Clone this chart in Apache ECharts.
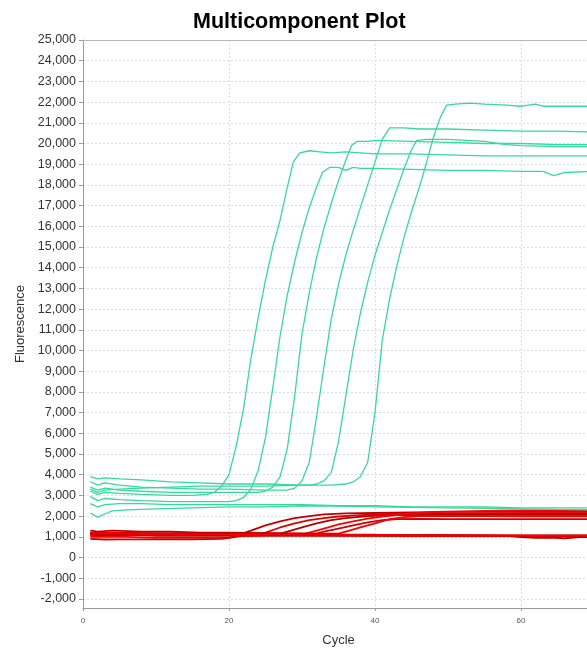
<!DOCTYPE html>
<html>
<head>
<meta charset="utf-8">
<title>Multicomponent Plot</title>
<script src="https://cdn.jsdelivr.net/npm/echarts@6/dist/echarts.min.js"></script>
<style>
  html, body { margin: 0; padding: 0; background: #ffffff; }
  #chart { width: 587px; height: 648px; }
</style>
</head>
<body>
<div id="chart"></div>
<script>
// Axis tick values
const yTickValues = [-2000, -1000, 0, 1000, 2000, 3000, 4000, 5000, 6000, 7000, 8000, 9000,
  10000, 11000, 12000, 13000, 14000, 15000, 16000, 17000, 18000, 19000, 20000, 21000,
  22000, 23000, 24000, 25000];
const xTickValues = [0, 20, 40, 60];

// Reporter dye (green) traces: [cycle, fluorescence]
const greenA = [[1,3200],[2,3050],[3,3150],[5,3100],[8,3050],[12,3000],[15,3000],[17,3050],[18,3150],[19,3450],[20,4000],[21,5400],[22,7200],[23,9600],[24,11600],[25,13400],[26,15000],[27,16300],[28,17900],[28.8,19100],[29.7,19550],[31,19650],[32.5,19600],[34,19550],[36,19600],[40,19500],[45,19500],[50,19450],[55,19400],[60,19400],[65,19400],[70,19400]];
const greenB = [[1,2950],[2,2750],[3,2850],[5,2800],[8,2750],[12,2700],[16,2700],[20,2700],[21,2750],[22,2900],[23,3300],[24,4200],[25,5800],[26,8200],[27,10700],[28,12700],[29,14300],[30,15700],[31,16900],[32,17900],[32.8,18600],[33.8,18850],[35,18850],[36,18700],[37,18850],[38,18800],[40,18800],[45,18750],[50,18700],[55,18700],[60,18650],[63,18650],[64.5,18450],[66,18600],[70,18650]];
const greenC = [[1,3400],[2,3250],[3,3350],[5,3250],[8,3200],[12,3150],[16,3150],[20,3150],[24,3150],[25,3200],[26,3400],[27,3900],[28,5300],[29,7800],[30,10800],[31,12800],[32,14500],[33,15900],[34,17100],[35,18200],[36,19200],[36.8,19900],[37.5,20100],[39,20100],[40,20150],[45,20100],[50,20050],[55,20000],[60,20000],[65,19950],[70,19950]];
const greenD = [[1,3670],[2,3500],[3,3600],[5,3500],[8,3400],[12,3350],[16,3300],[20,3300],[25,3250],[28,3250],[29,3350],[30,3700],[31,4600],[32,6800],[33,9200],[34,11500],[35,13200],[36,14600],[37,15800],[38,16900],[39,18000],[40,19100],[41,20200],[42,20750],[44,20750],[46,20700],[50,20700],[55,20650],[60,20600],[65,20600],[70,20550]];
const greenE = [[1,3300],[2,3150],[3,3250],[5,3300],[8,3350],[12,3400],[16,3450],[20,3450],[25,3450],[30,3500],[31,3500],[32,3550],[33,3700],[34,4100],[35,5600],[36,7800],[37,10000],[38,11800],[39,13300],[40,14600],[41,15700],[42,16800],[43,17800],[44,18800],[45,19700],[45.7,20150],[47,20200],[50,20200],[55,20100],[58,19950],[60,19900],[65,19850],[70,19850]];
const greenF = [[1,3910],[2,3800],[3,3850],[5,3800],[8,3750],[12,3650],[16,3600],[20,3550],[25,3550],[30,3500],[34,3500],[36,3550],[37,3650],[38,3900],[39,4600],[40,7000],[41,10500],[42,12500],[43,14100],[44,15500],[45,16700],[46,17800],[47,19000],[48,20300],[49,21300],[49.8,21850],[51,21900],[53,21950],[55,21900],[58,21850],[60,21800],[61,21850],[62,21900],[63,21800],[65,21800],[70,21800]];
const greenN1 = [[1,2600],[2,2450],[3,2550],[5,2600],[8,2600],[12,2550],[16,2550],[20,2550],[25,2550],[30,2550],[35,2500],[40,2500],[45,2450],[50,2450],[55,2450],[60,2400],[65,2400],[70,2400]];
const greenN2 = [[1,2150],[2,1950],[3,2100],[4,2250],[6,2300],[10,2350],[15,2400],[20,2450],[25,2450],[30,2500],[35,2480],[40,2450],[45,2420],[50,2400],[55,2380],[60,2350],[65,2320],[70,2300]];

// Passive/quencher dye (red) traces: [cycle, fluorescence]
const redA = [[1,1150],[5,1150],[10,1150],[15,1150],[20,1150],[22,1180],[23,1300],[25,1550],[27,1750],[29,1900],[31,2000],[33,2080],[36,2130],[40,2150],[45,2180],[50,2200],[55,2200],[60,2200],[65,2200],[70,2200]];
const redB = [[1,1100],[6,1100],[12,1100],[18,1100],[24,1100],[25,1200],[27,1450],[29,1650],[31,1800],[33,1900],[35,1980],[38,2050],[42,2100],[48,2130],[55,2130],[60,2140],[70,2140]];
const redC = [[1,1150],[6,1150],[12,1150],[20,1150],[27,1150],[28,1250],[30,1450],[32,1650],[34,1800],[36,1900],[39,2000],[43,2050],[48,2060],[55,2060],[60,2060],[70,2060]];
const redD = [[1,1100],[8,1100],[16,1100],[24,1100],[30,1100],[31,1200],[33,1400],[35,1600],[37,1750],[39,1880],[41,1980],[44,2100],[48,2200],[55,2250],[60,2270],[70,2270]];
const redE = [[1,1150],[8,1150],[16,1150],[24,1150],[32,1150],[33,1250],[35,1400],[37,1550],[39,1700],[41,1800],[43,1850],[46,1870],[50,1850],[55,1850],[60,1850],[70,1850]];
const redF = [[1,1150],[8,1150],[16,1150],[25,1150],[35,1150],[36,1250],[38,1450],[40,1650],[42,1850],[44,1950],[46,2000],[48,2000],[55,2000],[60,1990],[70,1990]];
const redG = [[1,1300],[2,1250],[4,1300],[8,1250],[12,1250],[16,1200],[20,1200],[25,1180],[30,1150],[35,1120],[40,1100],[50,1080],[60,1060],[70,1050]];
const redH = [[1,1200],[3,1150],[6,1200],[10,1150],[15,1150],[20,1100],[30,1100],[40,1080],[50,1050],[60,1050],[70,1050]];
const redI = [[1,1100],[3,1050],[6,1100],[10,1050],[15,1050],[20,1050],[30,1050],[40,1050],[50,1050],[58,1040],[60,980],[62,950],[64,960],[66,930],[68,980],[70,1000]];
const redJ = [[1,1000],[3,1000],[6,1000],[10,950],[15,950],[20,950],[22,1050],[25,1080],[30,1080],[40,1070],[50,1060],[60,1050],[70,1050]];
const redK = [[1,900],[3,870],[5,880],[10,880],[15,880],[19,900],[20,950],[21,1050],[25,1080],[30,1080],[40,1060],[50,1050],[60,1040],[70,1040]];
const redL = [[1,1150],[3,1200],[6,1150],[10,1100],[15,1100],[20,1100],[30,1100],[40,1080],[50,1060],[60,1060],[70,1060]];

const greenTraces = [greenA, greenB, greenC, greenD, greenE, greenF, greenN1, greenN2];
const redTraces = [redA, redB, redC, redD, redE, redF, redG, redH, redI, redJ, redK, redL];
const redShades = ['#c00000', '#e00000', '#b00000', '#ff0000', '#d00000', '#f00000'];

const FONT = '"Liberation Sans", Arial, sans-serif';

function lineSeries(data, color, width) {
  return {
    type: 'line',
    data: data,
    showSymbol: false,
    symbol: 'none',
    silent: true,
    animation: false,
    lineStyle: { color: color, width: width },
    itemStyle: { color: color }
  };
}

const series = [];
redTraces.forEach((d, i) => series.push(lineSeries(d, redShades[i % redShades.length], 1.8)));
greenTraces.forEach(d => series.push(lineSeries(d, '#35d99e', 1.3)));

const chart = echarts.init(document.getElementById('chart'), null, { renderer: 'canvas' });

chart.setOption({
  backgroundColor: '#ffffff',
  animation: false,
  title: {
    text: 'Multicomponent Plot',
    left: 193,
    top: 11,
    padding: 0,
    textStyle: { fontFamily: FONT, fontSize: 21.5, fontWeight: 'bold', color: '#000000' }
  },
  // The plot area runs a few pixels past the right edge of the canvas
  grid: { left: 83, top: 40, right: -7, bottom: 40, containLabel: false, outerBoundsMode: 'none' },
  xAxis: [{
    type: 'value',
    position: 'bottom',
    min: 0,
    max: 70,
    name: 'Cycle',
    nameLocation: 'middle',
    nameGap: 26,
    nameTextStyle: { fontFamily: FONT, fontSize: 13, color: '#333333' },
    axisLine: { show: true, onZero: false, lineStyle: { color: '#9a9a9a', width: 1 } },
    axisTick: { show: true, length: 3, customValues: xTickValues, lineStyle: { color: '#9a9a9a' } },
    axisLabel: { customValues: xTickValues, fontFamily: FONT, fontSize: 8, color: '#555555', margin: 9 },
    splitLine: { show: true, lineStyle: { color: '#dddddd', type: [2, 2], width: 1 } }
  }, {
    type: 'value',
    position: 'top',
    min: 0,
    max: 70,
    axisLine: { show: true, onZero: false, lineStyle: { color: '#b5b5b5', width: 1 } },
    axisTick: { show: false },
    axisLabel: { show: false },
    splitLine: { show: false }
  }],
  yAxis: {
    type: 'value',
    min: -2440,
    max: 25000,
    name: 'Fluorescence',
    nameLocation: 'middle',
    nameGap: 56,
    nameTextStyle: { fontFamily: FONT, fontSize: 13, color: '#333333' },
    axisLine: { show: true, onZero: false, lineStyle: { color: '#9a9a9a', width: 1 } },
    axisTick: { show: true, length: 4, customValues: yTickValues, lineStyle: { color: '#9a9a9a' } },
    axisLabel: {
      customValues: yTickValues,
      fontFamily: FONT,
      fontSize: 12.5,
      color: '#333333',
      margin: 7,
      formatter: v => Number(v).toLocaleString('en-US')
    },
    splitLine: { show: true, lineStyle: { color: '#dddddd', type: [2, 2], width: 1 } }
  },
  series: series
});
</script>
</body>
</html>
